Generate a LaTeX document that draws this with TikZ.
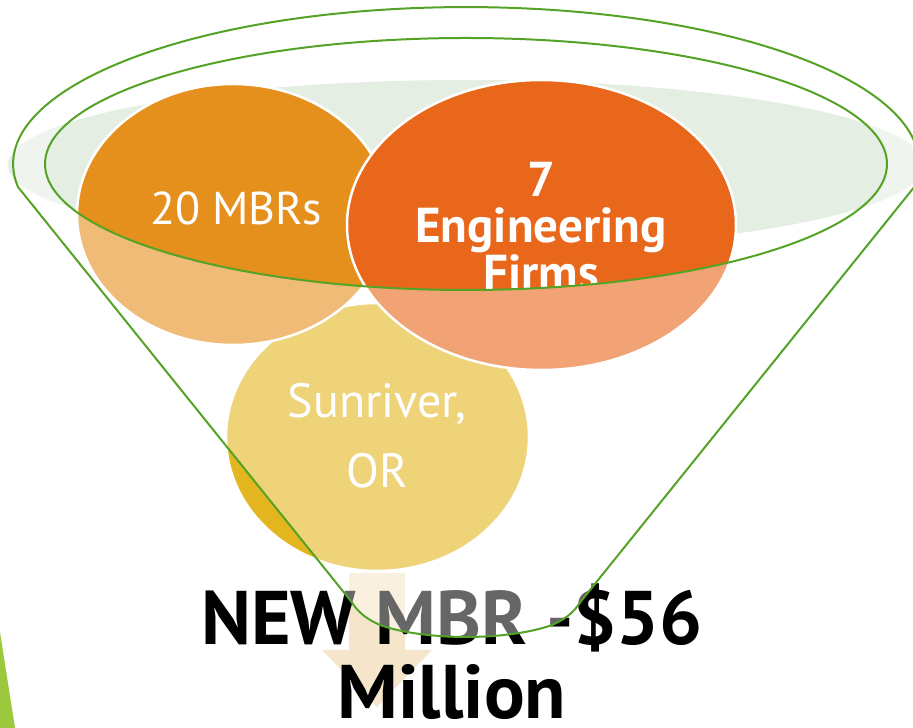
\documentclass[tikz,border=0pt]{standalone}
\definecolor{funnelgreen}{RGB}{84,163,38}
\definecolor{rimgray}{RGB}{229,238,227}
\definecolor{mbrorange}{RGB}{229,143,28}
\definecolor{firmorange}{RGB}{232,103,26}
\definecolor{sungold}{RGB}{227,182,31}
\definecolor{arrowbeige}{RGB}{245,230,203}
\definecolor{accentlime}{RGB}{155,200,60}
\usepackage{fontspec}
\setmainfont{PT Sans}
\usetikzlibrary{shapes.geometric}

\begin{document}
\begin{tikzpicture}[x=1pt, y=1pt,
    bubble/.style={ellipse, draw=white, line width=2.5, inner sep=0},
    bubbletext/.style={text=white, align=center, inner sep=0},
    rim/.style={draw=funnelgreen, line width=2}]
                    \useasboundingbox (0,0) rectangle (913,728);

                    % Corner accent
                    \fill[accentlime] (0,96) -- (0,0) -- (15,0) -- cycle;

                    % Funnel mouth
                    \fill[rimgray] (466,563) ellipse [x radius=458, y radius=85];

                    % Bubbles
                    \node[bubble, fill=sungold, minimum width=303, minimum height=268] (sun) at (377.5,291) {};
                    \node[bubble, fill=mbrorange, minimum width=312, minimum height=261] (mbr) at (233,513.5) {};
                    \node[bubble, fill=firmorange, minimum width=389, minimum height=290] (firms) at (541.5,503) {};

                    \node[bubbletext, font=\fontsize{46}{54}\selectfont] (mbrlabel) at (236,520) {20 MBRs};
                    \node[bubbletext, font=\fontsize{48}{70}\selectfont] (sunlabel) at (377,292) {Sunriver,\\OR};
                    \begin{scope}
                        \clip (466,564) ellipse [x radius=421, y radius=126];
                        \node[bubbletext, font=\bfseries\fontsize{49}{46.5}\selectfont] (firmslabel) at (541,502) {7\\Engineering\\Firms};
                    \end{scope}

                    % Down arrow
                    \fill[arrowbeige] (349,155) -- (405,155) -- (405,78) -- (432,78)
                        -- (377,21) -- (322,78) -- (349,78) -- cycle;

                    % Result
                    \node[font=\bfseries\fontsize{76}{74}\selectfont, align=center, inner sep=0] (total) at (452,76) {NEW MBR -\$56\\Million};

                    % Funnel body
                    \path[fill=white, fill opacity=0.4, even odd rule]
                        (18,541) arc[start angle=188.4, end angle=-8.4, x radius=453, y radius=157]
                        -- (582,128) .. controls (576,120) and (572,112) .. (552,103)
                        .. controls (527,94) and (492,91) .. (466,91)
                        .. controls (440,91) and (405,94) .. (380,103)
                        .. controls (360,112) and (356,120) .. (350,128) -- cycle
                        (466,564) ellipse [x radius=421, y radius=126];
                    \draw[rim]
                        (18,541) arc[start angle=188.4, end angle=-8.4, x radius=453, y radius=157]
                        -- (582,128) .. controls (576,120) and (572,112) .. (552,103)
                        .. controls (527,94) and (492,91) .. (466,91)
                        .. controls (440,91) and (405,94) .. (380,103)
                        .. controls (360,112) and (356,120) .. (350,128) -- cycle;
                    \draw[rim] (466,564) ellipse [x radius=421, y radius=126];
                \end{tikzpicture}
\end{document}
